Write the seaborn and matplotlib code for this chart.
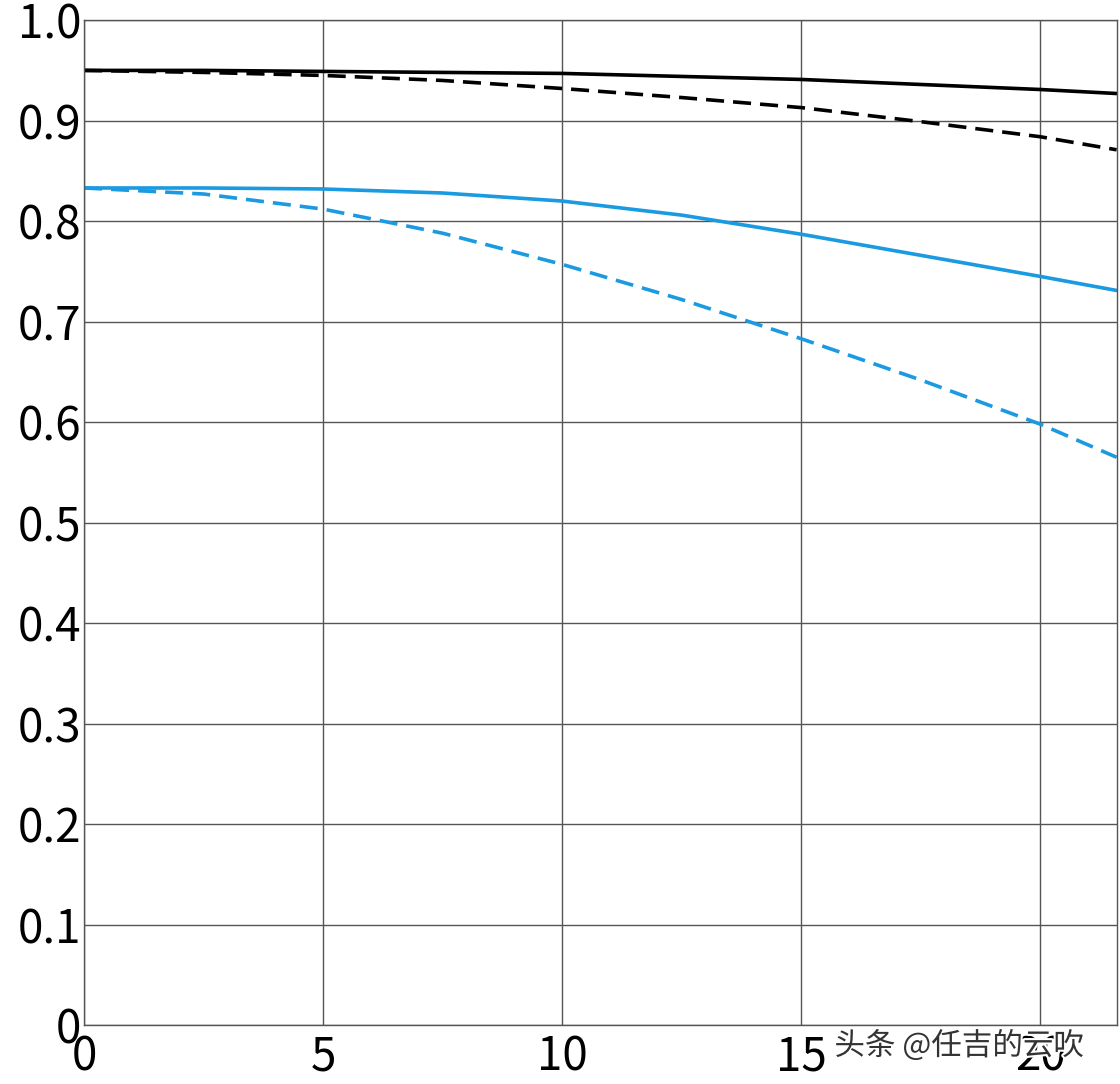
import matplotlib
matplotlib.use("Agg")
import matplotlib.pyplot as plt
import matplotlib.patheffects as pe
import seaborn as sns
import pandas as pd

x = [0, 2.5, 5, 7.5, 10, 12.5, 15, 17.5, 20, 21.6]
black_solid = [0.950, 0.950, 0.949, 0.948, 0.947, 0.944, 0.941, 0.936, 0.931, 0.927]
black_dash = [0.950, 0.948, 0.945, 0.940, 0.932, 0.923, 0.913, 0.899, 0.884, 0.871]
blue_solid = [0.833, 0.833, 0.832, 0.828, 0.820, 0.806, 0.787, 0.766, 0.745, 0.731]
blue_dash = [0.833, 0.827, 0.812, 0.788, 0.757, 0.722, 0.683, 0.642, 0.598, 0.565]
xticks = [0, 5, 10, 15, 20]
yticks = [0, 0.1, 0.2, 0.3, 0.4, 0.5, 0.6, 0.7, 0.8, 0.9, 1.0]
ylabels = ["0", "0.1", "0.2", "0.3", "0.4", "0.5", "0.6", "0.7", "0.8", "0.9", "1.0"]

sns.set_theme(style="white")
plt.rcParams['font.family'] = ['Noto Sans CJK SC', 'DejaVu Sans']

fig = plt.figure(figsize=(11.2, 10.84), dpi=100)
ax = fig.add_axes([0.075, 0.0544, 0.922, 0.927])
blue = "#1a9ae0"
series = [(black_solid, "black", "-"), (black_dash, "black", (0, (5, 2.5))),
          (blue_solid, blue, "-"), (blue_dash, blue, (0, (5, 2.5)))]
for ys, c, ls in series:
    df = pd.DataFrame({"x": x, "y": ys})
    sns.lineplot(data=df, x="x", y="y", ax=ax, color=c, linestyle=ls, linewidth=2.6)

ax.set_xlim(0, 21.6)
ax.set_ylim(0, 1.0)
ax.set_xticks(xticks)
ax.set_yticks(yticks)
ax.set_yticklabels(ylabels)
ax.set_xlabel("")
ax.set_ylabel("")
ax.grid(True, color="#555555", linewidth=1.0)
for s in ax.spines.values():
    s.set_color("#555555")
    s.set_linewidth(1.0)
ax.tick_params(axis="both", labelsize=33, length=0, colors="black", pad=2)
ax.tick_params(axis="x", pad=6)
for t in ax.get_xticklabels() + ax.get_yticklabels():
    t.set_fontweight("light")
fig.text(0.745, 0.027, "头条 @任吉的云吹", fontsize=22, color="#333333", zorder=10,
         path_effects=[pe.withStroke(linewidth=3, foreground="white")])
fig.savefig("out.png", dpi=100)
